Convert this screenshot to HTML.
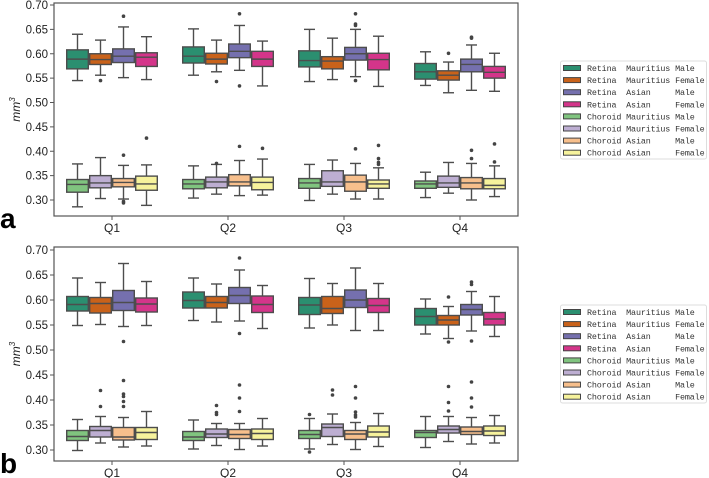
<!DOCTYPE html>
<html><head><meta charset="utf-8"><style>
html,body{margin:0;padding:0;background:#fff;width:709px;height:478px;overflow:hidden}
svg{display:block}
text{font-family:"Liberation Sans",sans-serif}
</style></head><body>
<svg id="chart" width="709" height="478" viewBox="0 0 709 478" xmlns="http://www.w3.org/2000/svg"></svg>
<script>
const categories = ["Q1","Q2","Q3","Q4"];
const seriesNames = ["Retina  Mauritius Male","Retina  Mauritius Female","Retina  Asian     Male","Retina  Asian     Female","Choroid Mauritius Male","Choroid Mauritius Female","Choroid Asian     Male","Choroid Asian     Female"];
const seriesColors = ["#2b8f70","#c9621a","#7570ae","#d4358a","#80c47f","#bdaed2","#f7bf8c","#f6f29c"];
const yTicks = [0.30,0.35,0.40,0.45,0.50,0.55,0.60,0.65,0.70];
// each box: [low whisker, q1, median, q3, high whisker]; index [category][series]
const statsA = [
 [[0.545,0.569,0.589,0.608,0.640],[0.556,0.578,0.588,0.600,0.628],[0.551,0.582,0.595,0.610,0.655],[0.547,0.574,0.593,0.602,0.635],
  [0.286,0.316,0.332,0.342,0.374],[0.303,0.325,0.335,0.350,0.387],[0.302,0.327,0.336,0.344,0.371],[0.289,0.320,0.333,0.349,0.372]],
 [[0.556,0.581,0.595,0.614,0.651],[0.563,0.579,0.589,0.601,0.628],[0.566,0.592,0.605,0.620,0.658],[0.534,0.574,0.589,0.605,0.626],
  [0.304,0.323,0.333,0.342,0.370],[0.312,0.325,0.337,0.347,0.373],[0.309,0.329,0.337,0.352,0.381],[0.310,0.321,0.336,0.347,0.384]],
 [[0.543,0.573,0.586,0.606,0.650],[0.547,0.569,0.585,0.594,0.632],[0.553,0.587,0.600,0.613,0.650],[0.533,0.567,0.588,0.601,0.636],
  [0.299,0.324,0.335,0.344,0.373],[0.312,0.328,0.337,0.360,0.382],[0.302,0.318,0.337,0.351,0.375],[0.302,0.324,0.333,0.341,0.366]],
 [[0.535,0.548,0.563,0.580,0.604],[0.520,0.546,0.556,0.565,0.583],[0.525,0.563,0.578,0.589,0.618],[0.523,0.550,0.562,0.574,0.601],
  [0.305,0.324,0.333,0.339,0.357],[0.314,0.326,0.335,0.349,0.377],[0.300,0.323,0.335,0.346,0.375],[0.307,0.323,0.330,0.344,0.370]]
];
const outliersA = [
 [[],[0.545],[0.677],[],[],[],[0.392,0.297,0.294],[0.427]],
 [[],[0.543],[0.682,0.534],[],[],[0.375],[0.410],[0.406]],
 [[],[],[0.682,0.661,0.658,0.545],[],[],[],[0.405],[0.412,0.385,0.377,0.373]],
 [[],[0.601],[0.634,0.632],[],[],[],[0.385,0.402],[0.378,0.415]]
];
const statsB = [
 [[0.549,0.578,0.591,0.607,0.644],[0.551,0.574,0.593,0.605,0.635],[0.547,0.579,0.595,0.619,0.673],[0.549,0.576,0.592,0.604,0.637],
  [0.299,0.319,0.327,0.339,0.361],[0.314,0.326,0.339,0.347,0.367],[0.306,0.320,0.326,0.345,0.365],[0.308,0.321,0.335,0.345,0.377]],
 [[0.559,0.584,0.599,0.616,0.644],[0.556,0.584,0.595,0.607,0.632],[0.558,0.593,0.609,0.625,0.660],[0.543,0.575,0.591,0.608,0.629],
  [0.302,0.319,0.326,0.337,0.360],[0.309,0.325,0.332,0.342,0.353],[0.301,0.323,0.331,0.341,0.353],[0.308,0.321,0.333,0.342,0.363]],
 [[0.544,0.571,0.590,0.605,0.643],[0.550,0.573,0.583,0.607,0.633],[0.539,0.585,0.600,0.620,0.664],[0.539,0.575,0.589,0.603,0.633],
  [0.302,0.323,0.331,0.339,0.363],[0.311,0.327,0.345,0.352,0.372],[0.301,0.321,0.332,0.339,0.355],[0.307,0.326,0.336,0.348,0.373]],
 [[0.532,0.550,0.567,0.583,0.602],[0.523,0.550,0.560,0.569,0.587],[0.538,0.570,0.581,0.591,0.617],[0.527,0.550,0.562,0.575,0.607],
  [0.305,0.325,0.335,0.339,0.367],[0.317,0.334,0.341,0.348,0.367],[0.312,0.331,0.337,0.346,0.365],[0.314,0.329,0.338,0.348,0.369]]
];
const outliersB = [
 [[],[],[0.517],[],[],[0.387,0.419],[0.387,0.397,0.407,0.412,0.439],[]],
 [[],[],[0.684,0.533],[],[],[0.389,0.375,0.371],[0.377,0.404,0.430],[]],
 [[],[],[],[],[0.371,0.296],[0.410,0.420],[0.366,0.370,0.376,0.404,0.427],[]],
 [[],[0.606,0.516],[0.636,0.631,0.518],[],[],[0.378,0.395,0.427],[0.386,0.404,0.436],[]]
];

const NS="http://www.w3.org/2000/svg";
const svg=document.getElementById('chart');
function mk(tag,attrs,parent){const e=document.createElementNS(NS,tag);for(const k in attrs)e.setAttribute(k,attrs[k]);(parent||svg).appendChild(e);return e;}

function drawPanel(p){
  const g=mk('g',{});
  
  
  const yScale=v=>p.y70+(0.70-v)/0.40*(p.y30-p.y70);
  const groupW=(p.x1-p.x0)/categories.length;
  const xCenter=i=>p.x0+groupW*(i+0.5);
  const boxW=23;
  const slotX=(i,s)=>xCenter(i)-2*boxW+(s%4)*boxW;
  const frame=mk('rect',{x:p.x0,y:p.top,width:p.x1-p.x0,height:p.bottom-p.top,fill:'none',stroke:'#555',"stroke-width":1.2},g);
  
  
  yTicks.forEach(t=>{
    const y=yScale(t);
    mk('line',{x1:p.x0-4,x2:p.x0,y1:y,y2:y,stroke:'#555',"stroke-width":1},g);
    const tx=mk('text',{x:p.x0-6,y:y+4,"text-anchor":"end","font-size":11.5,fill:'#222'},g);
    tx.textContent=t.toFixed(2);
    
    
  });
  const yt=mk('text',{transform:`translate(20,${(p.top+p.bottom)/2}) rotate(-90)`,"text-anchor":"middle","font-size":12,"font-style":"italic",fill:'#222'},g);
  yt.innerHTML='mm<tspan dy="-5" font-size="8">3</tspan>';
  
  
  categories.forEach((c,i)=>{
    const x=xCenter(i);
    mk('line',{x1:x,x2:x,y1:p.bottom,y2:p.bottom+4,stroke:'#555',"stroke-width":1},g);
    const tx=mk('text',{x:x,y:p.bottom+16,"text-anchor":"middle","font-size":12,fill:'#222'},g);
    tx.textContent=c;
    
    
    p.stats[i].forEach((st,s)=>{
      const bx=slotX(i,s), cx=bx+boxW/2;
      const bg=mk('g',{},g);
      
      
      const ed='#4d4d4d';
      mk('line',{x1:cx,x2:cx,y1:yScale(st[0]),y2:yScale(st[1]),stroke:ed,"stroke-width":1.4},bg);
      mk('line',{x1:cx,x2:cx,y1:yScale(st[3]),y2:yScale(st[4]),stroke:ed,"stroke-width":1.4},bg);
      mk('line',{x1:cx-5.5,x2:cx+5.5,y1:yScale(st[0]),y2:yScale(st[0]),stroke:ed,"stroke-width":1.4},bg);
      mk('line',{x1:cx-5.5,x2:cx+5.5,y1:yScale(st[4]),y2:yScale(st[4]),stroke:ed,"stroke-width":1.4},bg);
      mk('rect',{x:bx+0.7,y:yScale(st[3]),width:boxW-1.4,height:yScale(st[1])-yScale(st[3]),fill:seriesColors[s],stroke:ed,"stroke-width":1.4},bg);
      mk('line',{x1:bx+0.7,x2:bx+boxW-0.7,y1:yScale(st[2]),y2:yScale(st[2]),stroke:ed,"stroke-width":1.4},bg);
      p.out[i][s].forEach(v=>{
        const o=mk('circle',{cx:cx,cy:yScale(v),r:1.8,fill:'#444'},bg);
        
        
      });
    });
  });
  const lab=mk('text',{x:0,y:p.bottom+12,"font-size":28,"font-weight":"bold",fill:'#000'},g);
  lab.textContent=p.label;
  
  
  const lg=mk('g',{},g);
  
  
  mk('rect',{x:560.5,y:p.legTop,width:146,height:98,fill:'#fff',stroke:'#ddd',"stroke-width":1,rx:2},lg);
  seriesNames.forEach((n,s)=>{
    const y=p.legTop+7+s*12.1;
    const e=mk('g',{},lg);
    
    
    mk('rect',{x:563.5,y:y-2.5,width:17,height:5,fill:seriesColors[s],stroke:'#444',"stroke-width":1},e);
    const t=mk('text',{x:587,y:y+3,"font-size":8.4,fill:'#333',"xml:space":"preserve",textLength:(n.length*4.9).toFixed(1),lengthAdjust:"spacing"},e);
    t.setAttribute('style','font-family:"Liberation Mono",monospace;white-space:pre');
    t.textContent=n;
  });
}
drawPanel({label:'a',x0:54,x1:518,top:3,bottom:216,y70:5,y30:200,stats:statsA,out:outliersA,legTop:61});
drawPanel({label:'b',x0:54,x1:518,top:247,bottom:461,y70:250,y30:450,stats:statsB,out:outliersB,legTop:305});
</script>
</body></html>
